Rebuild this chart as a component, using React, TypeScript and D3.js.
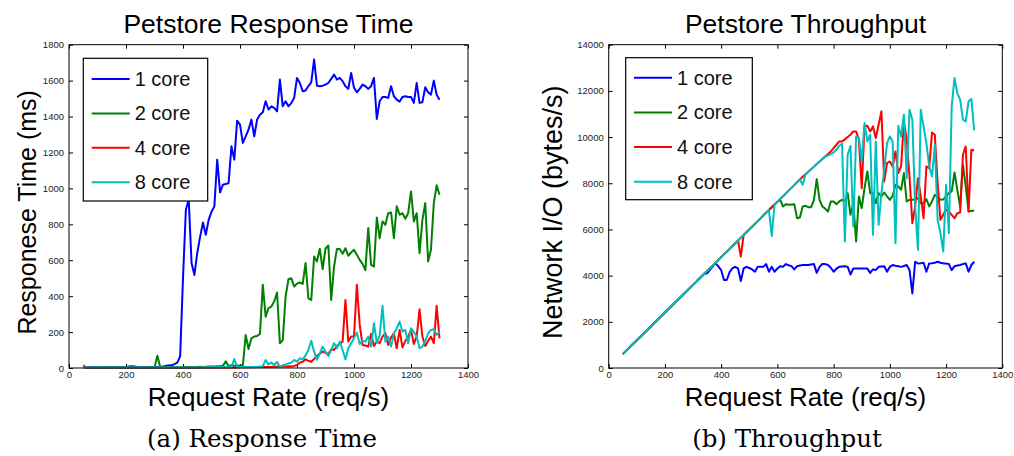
import { useEffect, useRef } from "react";
import * as d3 from "d3";

// request rate (req/s), one sample every 10 req/s
const rates = [
  50, 60, 70, 80, 90, 100, 110, 120, 130, 140, 150, 160, 170, 180, 190, 200,
  210, 220, 230, 240, 250, 260, 270, 280, 290, 300, 310, 320, 330, 340, 350,
  360, 370, 380, 390, 400, 410, 420, 430, 440, 450, 460, 470, 480, 490, 500,
  510, 520, 530, 540, 550, 560, 570, 580, 590, 600, 610, 620, 630, 640, 650,
  660, 670, 680, 690, 700, 710, 720, 730, 740, 750, 760, 770, 780, 790, 800,
  810, 820, 830, 840, 850, 860, 870, 880, 890, 900, 910, 920, 930, 940, 950,
  960, 970, 980, 990, 1000, 1010, 1020, 1030, 1040, 1050, 1060, 1070, 1080,
  1090, 1100, 1110, 1120, 1130, 1140, 1150, 1160, 1170, 1180, 1190, 1200,
  1210, 1220, 1230, 1240, 1250, 1260, 1270, 1280, 1290, 1300,
];

// response time (ms)
const rt1 = [
  5, 4, 5, 4, 5, 4, 5, 4, 5, 5,
  4, 5, 5, 4, 5, 6, 8, 10, 8, 6,
  5, 5, 6, 5, 6, 5, 6, 7, 8, 12,
  14, 15, 22, 30, 65, 500, 880, 940, 584, 518,
  640, 730, 810, 742, 825, 870, 900, 1160, 978, 1020,
  1024, 1030, 1234, 1160, 1377, 1355, 1253, 1290, 1327, 1383,
  1290, 1383, 1410, 1424, 1485, 1439, 1457, 1448, 1429, 1606,
  1457, 1485, 1457, 1475, 1504, 1615, 1587, 1541, 1545, 1570,
  1590, 1717, 1572, 1569, 1572, 1578, 1587, 1610, 1634, 1606,
  1615, 1597, 1569, 1554, 1643, 1560, 1535, 1554, 1578, 1569,
  1554, 1569, 1615, 1387, 1485, 1509, 1509, 1504, 1569, 1513,
  1494, 1483, 1509, 1513, 1509, 1509, 1476, 1587, 1476, 1480,
  1563, 1535, 1522, 1600, 1522, 1494,
];
const rt2 = [
  3, 3, 3, 3, 3, 3, 3, 3, 3, 3,
  3, 3, 3, 3, 3, 3, 3, 3, 3, 3,
  3, 3, 3, 3, 3, 3, 68, 5, 4, 4,
  4, 5, 4, 5, 4, 5, 5, 6, 5, 6,
  6, 7, 6, 7, 8, 8, 9, 10, 10, 12,
  37, 10, 15, 12, 14, 12, 15, 184, 106, 165,
  175, 178, 190, 463, 286, 333, 342, 370, 420, 138,
  156, 398, 494, 500, 454, 470, 476, 468, 584, 388,
  379, 621, 593, 664, 550, 664, 682, 379, 565, 662,
  662, 636, 667, 625, 643, 658, 630, 602, 580, 545,
  779, 574, 565, 838, 723, 816, 797, 862, 866, 723,
  900, 853, 862, 831, 862, 983, 816, 862, 639, 825,
  918, 593, 658, 918, 1017, 965,
];
const rt4 = [
  15, 3, 2, 2, 2, 2, 2, 2, 2, 2,
  2, 2, 2, 2, 2, 2, 2, 2, 2, 2,
  2, 2, 2, 2, 2, 2, 2, 2, 2, 2,
  2, 2, 2, 2, 2, 2, 2, 2, 2, 2,
  2, 2, 3, 3, 3, 3, 3, 3, 3, 3,
  3, 3, 3, 3, 3, 4, 4, 4, 4, 4,
  4, 5, 5, 5, 6, 6, 6, 7, 7, 8,
  8, 9, 10, 8, 12, 17, 30, 35, 48, 40,
  35, 50, 67, 80, 91, 85, 78, 104, 100, 123,
  135, 147, 379, 147, 175, 175, 463, 240, 128, 125,
  119, 190, 123, 147, 138, 175, 193, 128, 170, 193,
  110, 212, 115, 150, 175, 212, 134, 175, 327, 175,
  123, 150, 175, 138, 346, 165,
];
const rt8 = [
  3, 3, 3, 3, 3, 3, 3, 3, 3, 3,
  3, 3, 3, 3, 3, 3, 3, 3, 3, 3,
  3, 3, 3, 3, 3, 3, 3, 3, 3, 3,
  3, 3, 3, 3, 3, 3, 3, 3, 3, 3,
  3, 3, 4, 4, 4, 4, 5, 4, 5, 5,
  5, 6, 5, 50, 5, 6, 6, 6, 5, 6,
  6, 6, 8, 10, 45, 20, 30, 17, 33, 7,
  15, 20, 26, 30, 45, 35, 54, 48, 70, 100,
  152, 91, 45, 82, 119, 90, 67, 100, 138, 110,
  147, 100, 48, 110, 138, 165, 197, 134, 152, 147,
  175, 119, 249, 141, 180, 346, 147, 175, 119, 193,
  220, 258, 203, 212, 138, 221, 200, 175, 110, 119,
  150, 193, 212, 216, 184, 203,
];

// throughput (bytes/s): the shared linear ramp from 50 to 800 req/s
const rampBytes = [
  600, 720, 840, 960, 1080, 1200, 1320, 1440, 1560, 1680,
  1800, 1920, 2040, 2160, 2280, 2400, 2520, 2640, 2760, 2880,
  3000, 3120, 3240, 3360, 3480, 3600, 3720, 3840, 3960, 4080,
  4200, 4320, 4440, 4560, 4680, 4800, 4920, 5040, 5160, 5280,
  5400, 5520, 5640, 5760, 5880, 6000, 6120, 6240, 6360, 6480,
  6600, 6720, 6840, 6960, 7080, 7200, 7320, 7440, 7560, 7680,
  7800, 7920, 8040, 8160, 8280, 8390, 8500, 8610, 8720, 8830,
  8940, 9050, 9160, 9270, 9380, 9490,
];
// 1 core from 350 req/s
const tp1Tail = [
  4100, 4250, 4400, 4530, 4400, 4240, 3810, 3810, 4150, 4320,
  4380, 4310, 3770, 4310, 4380, 4330, 4270, 4170, 4380, 4380,
  4380, 4500, 4170, 4380, 4170, 4310, 4410, 4380, 4500, 4450,
  4410, 4270, 4410, 4440, 4460, 4460, 4460, 4480, 4500, 4120,
  4380, 4500, 4500, 4460, 4340, 4170, 4300, 4380, 4400, 4410,
  4380, 4050, 4310, 4310, 4310, 4310, 4310, 4310, 4120, 4270,
  4240, 4380, 4400, 4410, 4170, 4380, 4460, 4430, 4410, 4380,
  4420, 4460, 4240, 3230, 4600, 4530, 4540, 4560, 4170, 4530,
  4540, 4560, 4600, 4560, 4530, 4520, 4500, 4240, 4410, 4440,
  4460, 4500, 4530, 4170, 4460, 4600,
];
// 2 core from 600 req/s
const tp2Tail = [
  7200, 7280, 6994, 7095, 7066, 7080, 7095, 6488, 6517, 6994,
  7023, 6965, 6965, 7283, 8179, 7283, 6994, 6900, 6777, 7211,
  7211, 7095, 7211, 7283, 7211, 7572, 6633, 7138, 5477, 7428,
  6922, 7789, 8511, 7572, 7572, 7138, 7572, 7428, 7600, 7428,
  7283, 7457, 7933, 7861, 7717, 8440, 7211, 7283, 7283, 7300,
  7355, 7138, 7138, 7312, 6994, 7211, 7500, 7428, 7283, 7300,
  7428, 7572, 7644, 8468, 7717, 6994, 8800, 7861, 6777, 6800,
  6820,
];
// 4 core from 790 req/s
const tp4Tail = [
  9379, 9523, 9668, 9812, 9812, 9900, 10000, 10100, 10246, 10246,
  9884, 7789, 10462, 10491, 10246, 10462, 9957, 10535, 11113, 8078,
  8873, 8945, 8728, 9379, 8440, 8728, 10680, 9884, 8295, 6272,
  6994, 8222, 7428, 6488, 8728, 8656, 10202, 10100, 8000, 6416,
  6633, 6850, 6777, 6633, 6488, 6705, 6734, 9234, 9595, 6777,
  9451, 9422,
];
// 8 core from 780 req/s
const tp8Tail = [
  9200, 9263, 9335, 9451, 9624, 9710, 5477, 9234, 9624, 6127,
  10029, 9957, 8945, 10607, 9812, 10100, 5766, 9812, 6199, 7572,
  8583, 9740, 10029, 9812, 5405, 10491, 10029, 10969, 8222, 11185,
  10752, 6994, 5116, 11185, 10462, 9740, 8728, 8295, 9668, 6416,
  5838, 5044, 7933, 5838, 11330, 12557, 11907, 11618, 10752, 10680,
  11546, 11648, 10290,
];

const tp1 = [...rampBytes.slice(0, 30), ...tp1Tail];
const tp2 = [...rampBytes.slice(0, 55), ...tp2Tail];
const tp4 = [...rampBytes.slice(0, 42), 4830, ...rampBytes.slice(43, 74), ...tp4Tail];
const tp8 = [
  ...rampBytes.slice(0, 53), 5720, ...rampBytes.slice(54, 64), 7934,
  ...rampBytes.slice(65, 73), ...tp8Tail,
];

const xTicks = [0, 200, 400, 600, 800, 1000, 1200, 1400];
const rtTicks = [0, 200, 400, 600, 800, 1000, 1200, 1400, 1600, 1800];
const tpTicks = [0, 2000, 4000, 6000, 8000, 10000, 12000, 14000];

const coreLabels = ["1 core", "2 core", "4 core", "8 core"];
const coreColors = ["#0000ff", "#008000", "#ff0000", "#00bfbf"];

const SANS = "'Liberation Sans', Arial, Helvetica, sans-serif";
const SERIF = "'DejaVu Serif', serif";

type Panel = {
  left: number;
  right: number;
  top: number;
  bottom: number;
  yMax: number;
  yTicks: number[];
  series: number[][];
  title: string;
  xLabel: string;
  yLabel: string;
  yLabelX: number;
  yLabelSize: number;
  caption: string;
  captionX: number;
  legend: { x: number; y: number; w: number; h: number; row0: number; step: number; lx: number };
};

function drawPanel(svg: d3.Selection<SVGSVGElement, unknown, null, undefined>, p: Panel) {
  const x = d3.scaleLinear().domain([0, 1400]).range([p.left, p.right]);
  const y = d3.scaleLinear().domain([0, p.yMax]).range([p.bottom, p.top]);
  const g = svg.append("g");
  const fmt = d3.format("d");

  const styleAxis = (a: d3.Selection<SVGGElement, unknown, null, undefined>) => {
    a.select(".domain").remove();
    a.selectAll(".tick line").attr("stroke", "#000");
    a.selectAll("text").attr("font-family", SANS).attr("font-size", 9.5).attr("fill", "#222");
  };

  g.append("g")
    .attr("transform", `translate(0,${p.bottom})`)
    .call(d3.axisBottom(x).tickValues(xTicks).tickFormat(fmt).tickSizeInner(-4).tickSizeOuter(0).tickPadding(3))
    .call(styleAxis);
  g.append("g")
    .attr("transform", `translate(0,${p.top})`)
    .call(d3.axisTop(x).tickValues(xTicks).tickSizeInner(-4).tickSizeOuter(0).tickFormat(() => ""))
    .call(styleAxis);
  g.append("g")
    .attr("transform", `translate(${p.left},0)`)
    .call(d3.axisLeft(y).tickValues(p.yTicks).tickFormat(fmt).tickSizeInner(-4).tickSizeOuter(0).tickPadding(5))
    .call(styleAxis);
  g.append("g")
    .attr("transform", `translate(${p.right},0)`)
    .call(d3.axisRight(y).tickValues(p.yTicks).tickSizeInner(-4).tickSizeOuter(0).tickFormat(() => ""))
    .call(styleAxis);

  const line = d3
    .line<number>()
    .x((_, i) => x(rates[i]))
    .y((d) => y(d));

  p.series.forEach((s, i) => {
    g.append("path")
      .attr("d", line(s))
      .attr("fill", "none")
      .attr("stroke", coreColors[i])
      .attr("stroke-width", 2)
      .attr("stroke-linejoin", "round");
  });

  g.append("rect")
    .attr("x", p.left)
    .attr("y", p.top)
    .attr("width", p.right - p.left)
    .attr("height", p.bottom - p.top)
    .attr("fill", "none")
    .attr("stroke", "#000")
    .attr("stroke-width", 1);

  // legend
  const L = p.legend;
  g.append("rect")
    .attr("x", L.x)
    .attr("y", L.y)
    .attr("width", L.w)
    .attr("height", L.h)
    .attr("fill", "#fff")
    .attr("stroke", "#000")
    .attr("stroke-width", 1.2);
  coreLabels.forEach((lab, i) => {
    const ry = L.row0 + i * L.step;
    g.append("line")
      .attr("x1", L.lx)
      .attr("x2", L.lx + 38)
      .attr("y1", ry)
      .attr("y2", ry)
      .attr("stroke", coreColors[i])
      .attr("stroke-width", 2);
    g.append("text")
      .attr("x", L.lx + 43)
      .attr("y", ry)
      .attr("dy", "0.35em")
      .attr("font-family", SANS)
      .attr("font-size", 20)
      .attr("fill", "#111")
      .text(lab);
  });

  const cx = (p.left + p.right) / 2;
  g.append("text")
    .attr("x", cx)
    .attr("y", 33)
    .attr("text-anchor", "middle")
    .attr("font-family", SANS)
    .attr("font-size", 26.5)
    .attr("fill", "#000")
    .text(p.title);
  g.append("text")
    .attr("x", cx)
    .attr("y", 406)
    .attr("text-anchor", "middle")
    .attr("font-family", SANS)
    .attr("font-size", 26)
    .attr("fill", "#000")
    .text(p.xLabel);
  g.append("text")
    .attr("transform", `translate(${p.yLabelX},${(p.top + p.bottom) / 2 + 6}) rotate(-90)`)
    .attr("text-anchor", "middle")
    .attr("font-family", SANS)
    .attr("font-size", p.yLabelSize)
    .attr("fill", "#000")
    .text(p.yLabel);
  g.append("text")
    .attr("x", p.captionX)
    .attr("y", 447)
    .attr("text-anchor", "middle")
    .attr("font-family", SERIF)
    .attr("font-size", 24.5)
    .attr("fill", "#000")
    .text(p.caption);
}

export default function App() {
  const svgRef = useRef<SVGSVGElement>(null);

  useEffect(() => {
    const svg = d3.select(svgRef.current as SVGSVGElement);
    svg.selectAll("*").remove();

    drawPanel(svg, {
      left: 69,
      right: 468,
      top: 44.7,
      bottom: 368,
      yMax: 1800,
      yTicks: rtTicks,
      series: [rt1, rt2, rt4, rt8],
      title: "Petstore Response Time",
      xLabel: "Request Rate (req/s)",
      yLabel: "Responese Time (ms)",
      yLabelX: 36,
      yLabelSize: 25,
      caption: "(a) Response Time",
      captionX: 262,
      legend: { x: 83.3, y: 58.3, w: 124.4, h: 142.7, row0: 79, step: 34.4, lx: 91.7 },
    });

    drawPanel(svg, {
      left: 608.7,
      right: 1002.3,
      top: 44.7,
      bottom: 368,
      yMax: 14000,
      yTicks: tpTicks,
      series: [tp1, tp2, tp4, tp8],
      title: "Petstore Throughput",
      xLabel: "Request Rate (req/s)",
      yLabel: "Network I/O (bytes/s)",
      yLabelX: 562,
      yLabelSize: 27,
      caption: "(b) Throughput",
      captionX: 787,
      legend: { x: 625.7, y: 57.7, w: 126.6, h: 142, row0: 77.7, step: 34.7, lx: 634 },
    });
  }, []);

  return (
    <div style={{ position: "absolute", left: 0, top: 0, background: "#fff" }}>
      <svg ref={svgRef} width={1014} height={456} style={{ display: "block" }} />
    </div>
  );
}
